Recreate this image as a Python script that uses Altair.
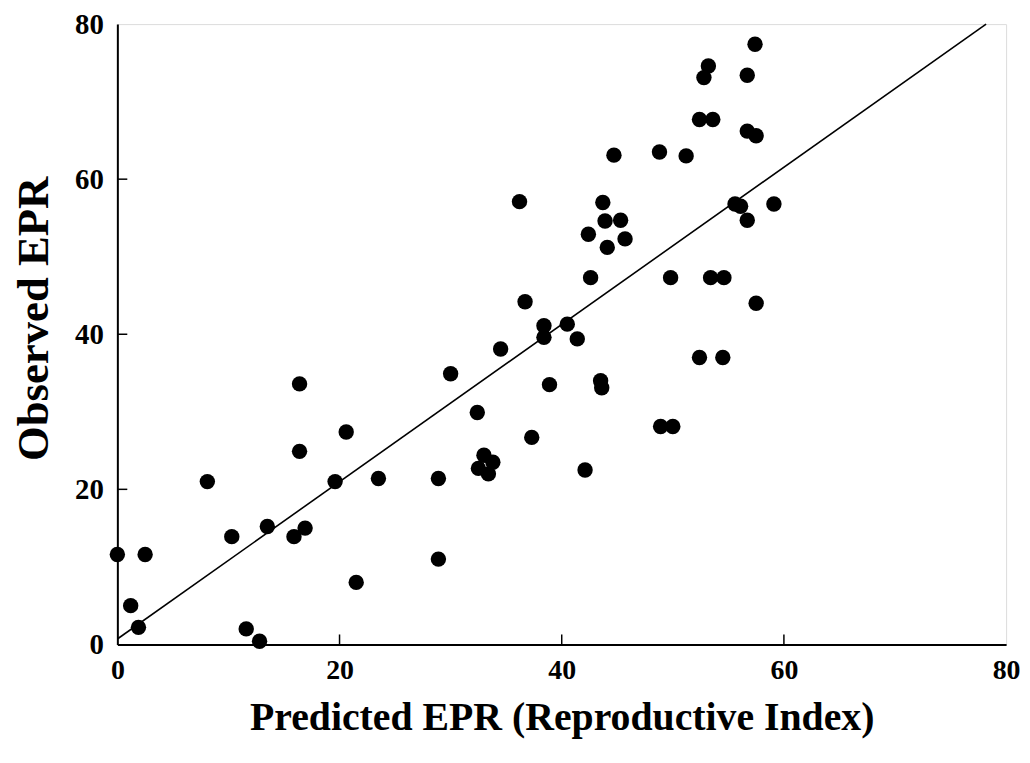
import altair as alt
import pandas as pd

# Scatter data
pred = [0.0, 2.5, 1.2, 1.9, 8.1, 10.3, 13.5, 11.6, 12.8, 16.4,
        16.4, 15.9, 16.9, 19.6, 20.6, 21.5, 23.5, 28.9, 28.9, 30.0,
        32.4, 32.5, 33.0, 33.8, 33.4, 34.5, 36.2, 36.7, 37.3, 38.4,
        38.4, 38.9, 40.5, 41.4, 42.1, 42.4, 42.6, 43.5, 43.6, 43.7,
        43.9, 44.1, 44.7, 45.3, 45.7, 48.8, 48.9, 50.0, 49.8, 51.2,
        52.4, 52.4, 54.5, 52.8, 53.2, 53.4, 53.6, 54.6, 55.6, 56.1,
        56.7, 56.7, 56.7, 57.4, 57.5, 57.5, 59.1]
obs = [11.6, 11.6, 5.0, 2.2, 21.0, 13.9, 15.2, 2.0, 0.4, 33.6,
       24.9, 13.9, 15.0, 21.0, 27.4, 8.0, 21.4, 21.4, 11.0, 34.9,
       29.9, 22.7, 24.4, 23.5, 22.0, 38.1, 57.1, 44.2, 26.7, 41.1,
       39.6, 33.5, 41.3, 39.4, 22.5, 52.9, 47.3, 34.0, 33.1, 57.0,
       54.6, 51.2, 63.1, 54.7, 52.3, 63.5, 28.1, 28.1, 47.3, 63.0,
       67.7, 37.0, 37.0, 73.1, 74.6, 47.3, 67.7, 47.3, 56.8, 56.5,
       73.4, 66.2, 54.7, 77.4, 65.6, 44.0, 56.8]

# Fitted line endpoints
line_x = [0.0, 78.2]
line_y = [0.7, 80.0]

tick_values = [20, 40, 60]

pts = pd.DataFrame({"pred": pred, "obs": obs})
ln = pd.DataFrame({"pred": line_x, "obs": line_y})
tk = pd.DataFrame({"v": tick_values})

FONT = "Liberation Serif"
W, H = 894, 624

xs = alt.Scale(domain=[0, 80], nice=False, zero=False)
ys = alt.Scale(domain=[0, 80], nice=False, zero=False)

xaxis = alt.Axis(values=[0, 20, 40, 60, 80], ticks=False, grid=False,
                 labelFlush=False,
                 domainColor="black", domainWidth=2,
                 labelFont=FONT, labelFontWeight="bold", labelFontSize=28,
                 labelColor="black", labelPadding=12,
                 title="Predicted EPR (Reproductive Index)",
                 titleFont=FONT, titleFontWeight="bold", titleFontSize=40,
                 titleColor="black", titlePadding=14)
yaxis = alt.Axis(values=[0, 20, 40, 60, 80], ticks=False, grid=False,
                 labelFlush=False,
                 domainColor="black", domainWidth=2,
                 labelFont=FONT, labelFontWeight="bold", labelFontSize=29,
                 labelColor="black", labelPadding=14,
                 title="Observed EPR", titleY=296,
                 titleFont=FONT, titleFontWeight="bold", titleFontSize=45,
                 titleColor="black", titlePadding=18)

points = alt.Chart(pts).mark_circle(size=240, color="black", opacity=1).encode(
    x=alt.X("pred:Q", scale=xs, axis=xaxis),
    y=alt.Y("obs:Q", scale=ys, axis=yaxis),
)

line = alt.Chart(ln).mark_line(color="black", strokeWidth=1.6).encode(
    x=alt.X("pred:Q", scale=xs),
    y=alt.Y("obs:Q", scale=ys),
)

xticks = alt.Chart(tk).mark_rule(color="black", strokeWidth=1.5).encode(
    x=alt.X("v:Q", scale=xs),
    y=alt.value(H),
    y2=alt.value(H - 10),
)
yticks = alt.Chart(tk).mark_rule(color="black", strokeWidth=1.5).encode(
    y=alt.Y("v:Q", scale=ys),
    x=alt.value(0),
    x2=alt.value(10),
)

chart = alt.layer(line, xticks, yticks, points).properties(
    width=W, height=H,
    autosize=alt.AutoSizeParams(type="none"),
    padding={"left": 110, "top": 14, "right": 16, "bottom": 100},
).configure_view(stroke="black", strokeWidth=1.5).configure(background="white")

chart.save("out.html", embed_options={"renderer": "svg", "actions": False})
